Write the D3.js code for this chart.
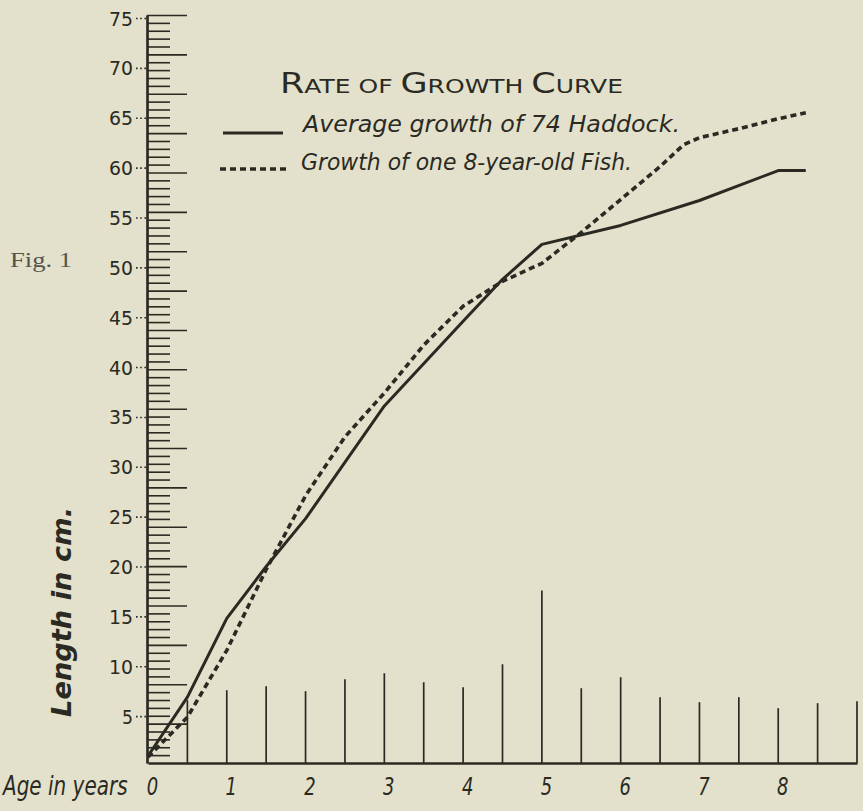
<!DOCTYPE html>
<html><head><meta charset="utf-8">
<script src="https://cdn.jsdelivr.net/npm/d3@7/dist/d3.min.js"></script>
<style>html,body{margin:0;padding:0;background:#e3e1cb;} svg{display:block;}</style>
</head><body><svg id="chart" width="863" height="811"></svg>
<script>
// ---- data ----
const ageTicks = [0, 1, 2, 3, 4, 5, 6, 7, 8];
const lengthTicks = [5, 10, 15, 20, 25, 30, 35, 40, 45, 50, 55, 60, 65, 70, 75];
const avgAges    = [0, 0.5, 1, 1.5, 2, 3, 4, 4.5, 5, 6, 7, 8, 8.35];
const avgLengths = [0.7, 6.6, 14.5, 19.7, 24.5, 35.8, 44.3, 48.5, 52, 53.9, 56.4, 59.4, 59.4];
const fishAges    = [0, 0.5, 1, 1.5, 2, 2.5, 3, 3.5, 4, 4.5, 5, 5.5, 6, 6.5, 6.8, 7, 7.5, 8, 8.35];
const fishLengths = [0.6, 4.6, 11.3, 19.4, 26.8, 32.7, 37.1, 41.9, 45.8, 48.3, 50.1, 53.2, 56.5, 59.8, 62, 62.7, 63.6, 64.6, 65.2];
const barAges    = [0.5, 1, 1.5, 2, 2.5, 3, 3.5, 4, 4.5, 5, 5.5, 6, 6.5, 7, 7.5, 8, 8.5, 9];
const barLengths = [6.3, 7.3, 7.7, 7.2, 8.4, 9.0, 8.1, 7.6, 9.9, 17.3, 7.5, 8.6, 6.6, 6.1, 6.6, 5.5, 6.0, 6.2];
const rulerDivisions = 95;
const titleParts = [["R", 1], ["ATE OF ", 0], ["G", 1], ["ROWTH ", 0], ["C", 1], ["URVE", 0]];
const legendLabels = ["Average growth of 74 Haddock.", "Growth of one 8-year-old Fish."];
const yAxisTitle = "Length in cm.";
const xAxisTitle = "Age in years";
const figLabel = "Fig. 1";

// ---- drawing ----
const ink = "#2a2a23";
const svg = d3.select("#chart");
const x = d3.scaleLinear().domain([0, 9]).range([148, 857]);
const y = d3.scaleLinear().domain([0, 75]).range([763, 15]);
const hand = "'DejaVu Sans', sans-serif";

// ruler (vertical scale with many horizontal strokes)
const rulerVals = d3.range(1, rulerDivisions + 1).map(i => i * 75 / rulerDivisions);
const minorG = svg.append("g").attr("transform", `translate(${x(0) - 1},0)`)
  .call(d3.axisRight(y).tickValues(rulerVals.filter((d, i) => (i + 1) % 5 !== 0)).tickSize(23).tickSizeOuter(0).tickFormat(""));
const majorG = svg.append("g").attr("transform", `translate(${x(0) - 1},0)`)
  .call(d3.axisRight(y).tickValues(rulerVals.filter((d, i) => (i + 1) % 5 === 0)).tickSize(40).tickSizeOuter(0).tickFormat(""));
[minorG, majorG].forEach(g => {
  g.selectAll(".tick line").attr("stroke", ink).attr("stroke-width", 1.6);
  g.select(".domain").attr("stroke", ink).attr("stroke-width", 2.2);
});

// y labels with dotted leaders
const yLab = svg.append("g").attr("transform", `translate(${x(0) - 1},0)`)
  .call(d3.axisLeft(y).tickValues(lengthTicks).tickSize(0).tickPadding(14));
yLab.select(".domain").remove();
yLab.selectAll(".tick text")
  .attr("font-family", hand).attr("font-size", 20).attr("fill", ink)
  .attr("dy", "0.5em")
  .attr("textLength", d => d < 10 ? 11 : 24).attr("lengthAdjust", "spacingAndGlyphs");
yLab.selectAll(".tick").append("line")
  .attr("x1", -11).attr("x2", -1).attr("y1", 3).attr("y2", 3)
  .attr("stroke", ink).attr("stroke-width", 1.6).attr("stroke-dasharray", "1.6,2.6");

// x axis
const xAx = svg.append("g").attr("transform", `translate(0,${y(0)})`)
  .call(d3.axisBottom(x).tickValues(ageTicks).tickSize(0).tickSizeOuter(0).tickFormat(d3.format("d")));
xAx.select(".domain").attr("stroke", ink).attr("stroke-width", 2.6);
xAx.selectAll(".tick text")
  .attr("font-family", hand).attr("font-style", "italic").attr("font-size", 18)
  .attr("fill", ink).attr("y", 0).attr("dy", 0)
  .attr("transform", d => `translate(4,32) scale(1,1.4)`);

// vertical bars
svg.append("g").selectAll("line").data(barAges).join("line")
  .attr("x1", d => x(d)).attr("x2", d => x(d))
  .attr("y1", y(0)).attr("y2", (d, i) => y(barLengths[i]))
  .attr("stroke", ink).attr("stroke-width", 1.7);

// curves
const line = d3.line().x(d => x(d[0])).y(d => y(d[1]));
svg.append("path").datum(avgAges.map((a, i) => [a, avgLengths[i]]))
  .attr("d", line).attr("fill", "none").attr("stroke", ink)
  .attr("stroke-width", 3).attr("stroke-linejoin", "round");
svg.append("path").datum(fishAges.map((a, i) => [a, fishLengths[i]]))
  .attr("d", line).attr("fill", "none").attr("stroke", ink)
  .attr("stroke-width", 3.6).attr("stroke-dasharray", "6,4");

// title
const title = svg.append("text").attr("x", 280).attr("y", 93)
  .attr("font-family", hand).attr("fill", ink)
  .attr("textLength", 343).attr("lengthAdjust", "spacingAndGlyphs");
title.selectAll("tspan").data(titleParts).join("tspan")
  .attr("font-size", d => d[1] ? 28 : 20).text(d => d[0]);

// legend
const legY = [133, 169];
svg.append("line").attr("x1", 223).attr("x2", 283).attr("y1", legY[0]).attr("y2", legY[0])
  .attr("stroke", ink).attr("stroke-width", 3.2);
svg.append("line").attr("x1", 220).attr("x2", 287).attr("y1", legY[1]).attr("y2", legY[1])
  .attr("stroke", ink).attr("stroke-width", 3.4).attr("stroke-dasharray", "6,4");
svg.append("text").attr("x", 303).attr("y", 132).text(legendLabels[0])
  .attr("font-family", hand).attr("font-style", "italic").attr("font-size", 23).attr("fill", ink)
  .attr("textLength", 377).attr("lengthAdjust", "spacingAndGlyphs");
svg.append("text").attr("x", 301).attr("y", 170).text(legendLabels[1])
  .attr("font-family", hand).attr("font-style", "italic").attr("font-size", 23).attr("fill", ink)
  .attr("textLength", 331).attr("lengthAdjust", "spacingAndGlyphs");

// axis titles
svg.append("text").attr("transform", "translate(71,717) rotate(-90)").text(yAxisTitle)
  .attr("font-family", hand).attr("font-style", "italic").attr("font-weight", "bold")
  .attr("font-size", 27).attr("fill", ink)
  .attr("textLength", 210).attr("lengthAdjust", "spacingAndGlyphs");
svg.append("text").attr("transform", "translate(3,795) scale(1,1.35)").text(xAxisTitle)
  .attr("font-family", hand).attr("font-style", "italic").attr("font-size", 20).attr("fill", ink);
svg.append("text").attr("x", 10).attr("y", 267).text(figLabel)
  .attr("font-family", "'Liberation Serif', serif").attr("font-size", 20).attr("fill", "#55554c")
  .attr("textLength", 62).attr("lengthAdjust", "spacingAndGlyphs");
</script></body></html>
